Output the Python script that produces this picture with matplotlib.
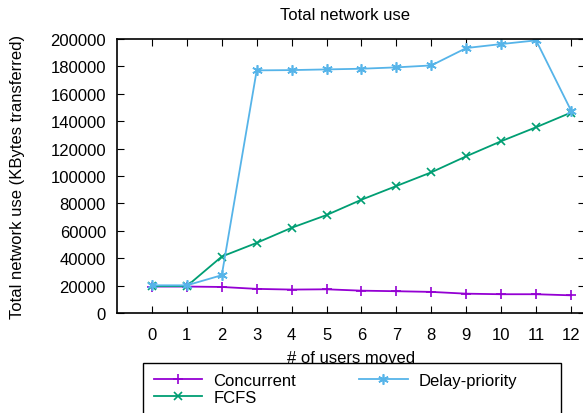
import matplotlib.pyplot as plt
from matplotlib.patches import Rectangle

plt.rcParams['font.family'] = ['Liberation Sans', 'DejaVu Sans']

users = list(range(13))
concurrent = [19300, 19300, 19000, 17600, 17100, 17300, 16300, 15900, 15400, 14100, 13700, 13700, 12900]
fcfs = [19600, 19600, 41200, 51200, 62200, 71500, 82700, 92700, 102700, 114400, 125400, 135600, 146300]
delay_priority = [20200, 20200, 27600, 177100, 177300, 177800, 178300, 179300, 180700, 193400, 196300, 199000, 147800]

fig = plt.figure(figsize=(5.83, 4.14), dpi=100)
W, H = 583, 414
# axes box runs a bit past the right edge of the picture (cropped like the original)
ax = fig.add_axes([117 / W, 1 - 314 / H, (585 - 117) / W, (314 - 40) / H])

ax.plot(users, concurrent, color='#9400d3', marker='+', markersize=6.5, mew=1.2, lw=1.3, label='Concurrent')
ax.plot(users, fcfs, color='#009e73', marker='x', markersize=5.5, mew=1.2, lw=1.3, label='FCFS')
ax.plot(users, delay_priority, color='#56b4e9', marker=(6, 2, 0), markersize=7.5, mew=1.2, lw=1.3,
        label='Delay-priority')

ax.set_xlim(-1, 12.4)
ax.set_ylim(0, 200000)
ax.set_xticks(users)
ax.set_yticks(range(0, 200001, 20000))
ax.tick_params(direction='in', top=True, right=True, length=5, labelsize=12, pad=8)
ax.tick_params(axis='x', pad=10)
for s in ax.spines.values():
    s.set_linewidth(1.2)

fig.text(345 / W, 1 - 16 / H, 'Total network use', fontsize=12, ha='center', va='center')
ax.set_xlabel('# of users moved', fontsize=12, labelpad=6)
ax.set_ylabel('Total network use (KBytes transferred)', fontsize=12, labelpad=18)

# legend box below the plot, cut off by the bottom edge
fig.add_artist(Rectangle((143 / W, 1 - 420 / H), (561 - 143) / W, (420 - 364) / H,
                         transform=fig.transFigure, fill=False, edgecolor='black', lw=1.0))
fig.legend(loc='upper left', bbox_to_anchor=(154 / W, 1 - 374 / H), ncol=2, fontsize=12,
           frameon=False, handlelength=2.9, handletextpad=0.65, columnspacing=3.8,
           labelspacing=0.12, borderpad=0, borderaxespad=0)

fig.savefig('out.png', dpi=100)
